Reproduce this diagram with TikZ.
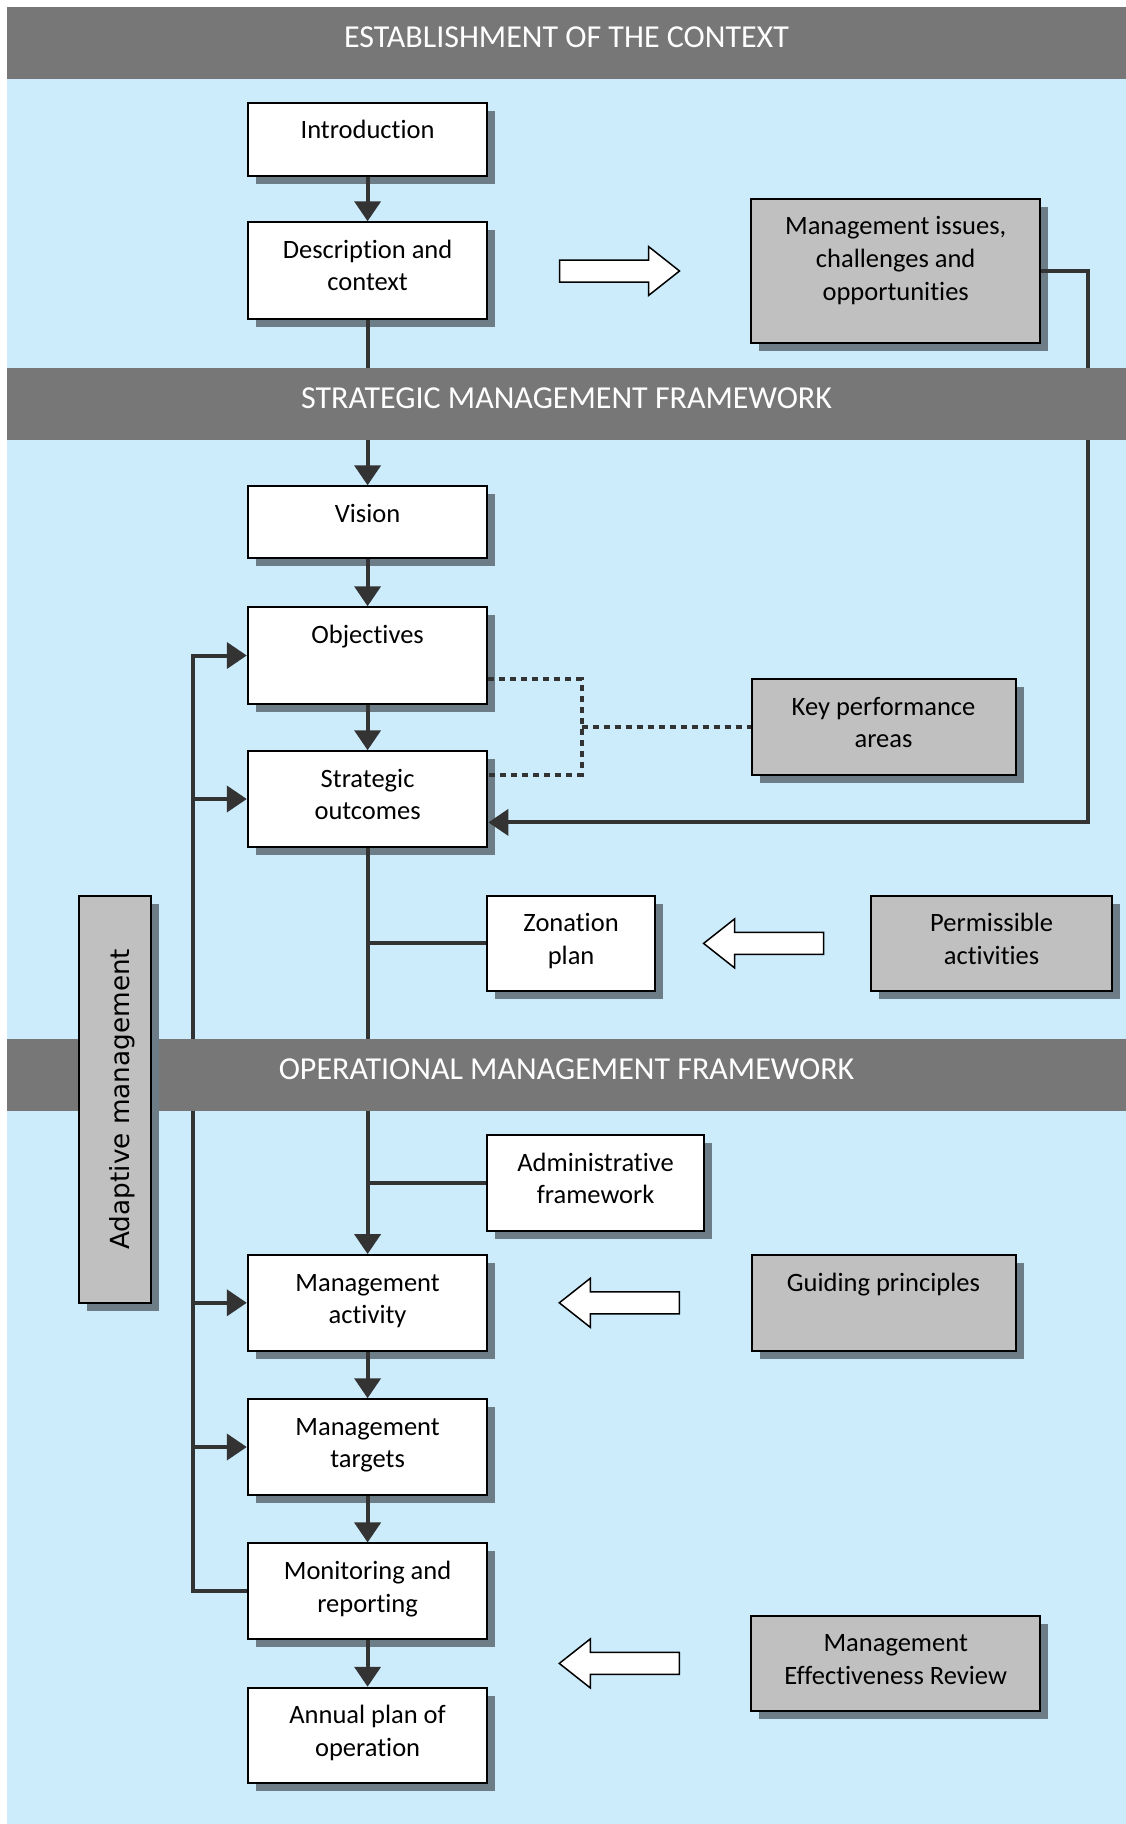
\documentclass[tikz,border=0pt]{standalone}
\usepackage{fontspec}
\setmainfont{Carlito}[Ligatures=NoCommon]
\newfontfamily\adaptfont{DejaVu Sans}
\usetikzlibrary{arrows.meta}
\usetikzlibrary{shadows}
\definecolor{skyblue}{RGB}{204,236,252}
\definecolor{bandgray}{RGB}{119,119,119}
\definecolor{boxgray}{RGB}{192,192,192}
\definecolor{shadowc}{RGB}{108,125,136}
\definecolor{linkc}{RGB}{51,51,51}
\pgfdeclarelayer{back}
\pgfdeclarelayer{bands}
\pgfdeclarelayer{top}
\pgfsetlayers{back,main,bands,top}
\newcommand\boxtext[1]{\begin{tabular}[t]{@{}c@{}}#1\end{tabular}}
\tikzset{
  framed/.style={draw=black, line width=2pt,
    drop shadow={shadow xshift=8pt, shadow yshift=-8pt, fill=shadowc, opacity=1}},
  wbox/.style={framed, fill=white, font=\fontsize{26.5}{32.6}\selectfont,
    minimum width=239.6pt, inner ysep=0pt, text height=36pt, text depth=59.5pt},
  gbox/.style={wbox, fill=boxgray},
  band/.style={fill=bandgray, text=white, minimum width=1119pt, minimum height=72.1pt,
    text depth=12pt, font=\fontsize{32}{38}\selectfont},
  flow/.style={draw=linkc, line width=4pt, -{Triangle[length=20pt,width=26pt]}},
  branch/.style={draw=linkc, line width=4pt},
  dotlink/.style={draw=linkc, line width=4pt, dash pattern=on 6pt off 5pt},
  blockarrow/.style={draw=black, line width=1.5pt, fill=white, line join=miter},
  pics/fatarrow/.style={code={
    \draw[blockarrow] (0,-11) -- (89,-11) -- (89,-24.5) -- (120,0) -- (89,24.5) -- (89,11) -- (0,11) -- cycle;
  }}
}

\begin{document}
\begin{tikzpicture}[x=1pt, y=-1pt]
    \useasboundingbox (0,0) rectangle (1126,1824);

    \begin{pgfonlayer}{back}
      \fill [white] (0,0) rectangle (1126,1824);
      \fill [skyblue] (7,7) rectangle (1126,1824);
    \end{pgfonlayer}

    \begin{pgfonlayer}{bands}
      \node [band] (bctx) at (566.5,43) {ESTABLISHMENT OF THE CONTEXT};
      \node [band] (bstr) at (566.5,403.7) {STRATEGIC MANAGEMENT FRAMEWORK};
      \node [band] (bop) at (566.5,1074.8) {OPERATIONAL MANAGEMENT FRAMEWORK};
    \end{pgfonlayer}

    \node [wbox, text depth=37pt] (intro) at (367.6,139) {\boxtext{Introduction}};
    \node [wbox, text depth=60.5pt] (desc) at (367.6,270.5) {\boxtext{Description and\\context}};
    \node [gbox, minimum width=288.5pt, text depth=108.2pt] (issues) at (895.7,271) {\boxtext{Management issues,\\challenges and\\opportunities}};
    \node [wbox, text depth=36pt] (vision) at (367.6,522.3) {\boxtext{Vision}};
    \node [wbox, text depth=60.5pt] (obj) at (367.6,655.5) {\boxtext{Objectives}};
    \node [wbox] (strat) at (367.6,799) {\boxtext{Strategic\\outcomes}};
    \node [gbox, minimum width=264pt] (kpa) at (883.5,727) {\boxtext{Key performance\\areas}};
    \node [wbox, minimum width=167.5pt] (zon) at (571.1,943.4) {\boxtext{Zonation\\plan}};
    \node [gbox, minimum width=240.8pt] (perm) at (991.6,943.4) {\boxtext{Permissible\\activities}};
    \node [wbox, minimum width=216.3pt] (adm) at (595.6,1183) {\boxtext{Administrative\\framework}};
    \node [wbox] (act) at (367.6,1302.8) {\boxtext{Management\\activity}};
    \node [gbox, minimum width=264pt] (guide) at (883.5,1302.8) {\boxtext{Guiding principles}};
    \node [wbox] (tgt) at (367.6,1447) {\boxtext{Management\\targets}};
    \node [wbox] (mon) at (367.6,1591.2) {\boxtext{Monitoring and\\reporting}};
    \node [wbox] (apo) at (367.6,1735.5) {\boxtext{Annual plan of\\operation}};
    \node [gbox, minimum width=288.5pt] (mer) at (895.7,1663.4) {\boxtext{Management\\Effectiveness Review}};

    \begin{pgfonlayer}{top}
      \node [framed, fill=boxgray, minimum width=72.1pt, minimum height=407pt, inner sep=0pt] (adapt) at (115.2,1099.2)
        {\rotatebox{90}{\adaptfont\fontsize{26.3}{31}\selectfont\raisebox{0pt}[\dimexpr\height+14pt][\depth]{Adaptive management}}};
    \end{pgfonlayer}

    \pic at (559.5,271) {fatarrow};
    \pic [xscale=-1] at (823.6,943.4) {fatarrow};
    \pic [xscale=-1] at (679.3,1302.8) {fatarrow};
    \pic [xscale=-1] at (679.3,1663.4) {fatarrow};

    \draw [flow] (intro) -- (desc);
    \draw [flow] (desc) -- (vision);
    \draw [flow] (vision) -- (obj);
    \draw [flow] (obj) -- (strat);
    \draw [flow] (strat) -- (act);
    \draw [flow] (act) -- (tgt);
    \draw [flow] (tgt) -- (mon);
    \draw [flow] (mon) -- (apo);

    \draw [branch] (strat.south |- zon.west) -- (zon.west);
    \draw [branch] (strat.south |- adm.west) -- (adm.west);

    \coordinate (fbtop) at (193.1,655.5);
    \draw [flow] (mon.west) -| (fbtop) -- (obj.west);
    \draw [flow] (fbtop |- strat.west) -- (strat.west);
    \draw [flow] (fbtop |- act.west) -- (act.west);
    \draw [flow] (fbtop |- tgt.west) -- (tgt.west);

    \coordinate (loopcorner) at (1087.6,822.4);
    \draw [flow] (issues.east) -| (loopcorner) -- (strat.east |- loopcorner);

    \coordinate (dtop) at (581.6,679.3);
    \coordinate (dbot) at (581.6,774.7);
    \draw [dotlink] (obj.east |- dtop) -- (dtop) -- (dbot) -- (strat.east |- dbot);
    \draw [dotlink] (dtop |- kpa.west) -- (kpa.west);
\end{tikzpicture}
\end{document}
